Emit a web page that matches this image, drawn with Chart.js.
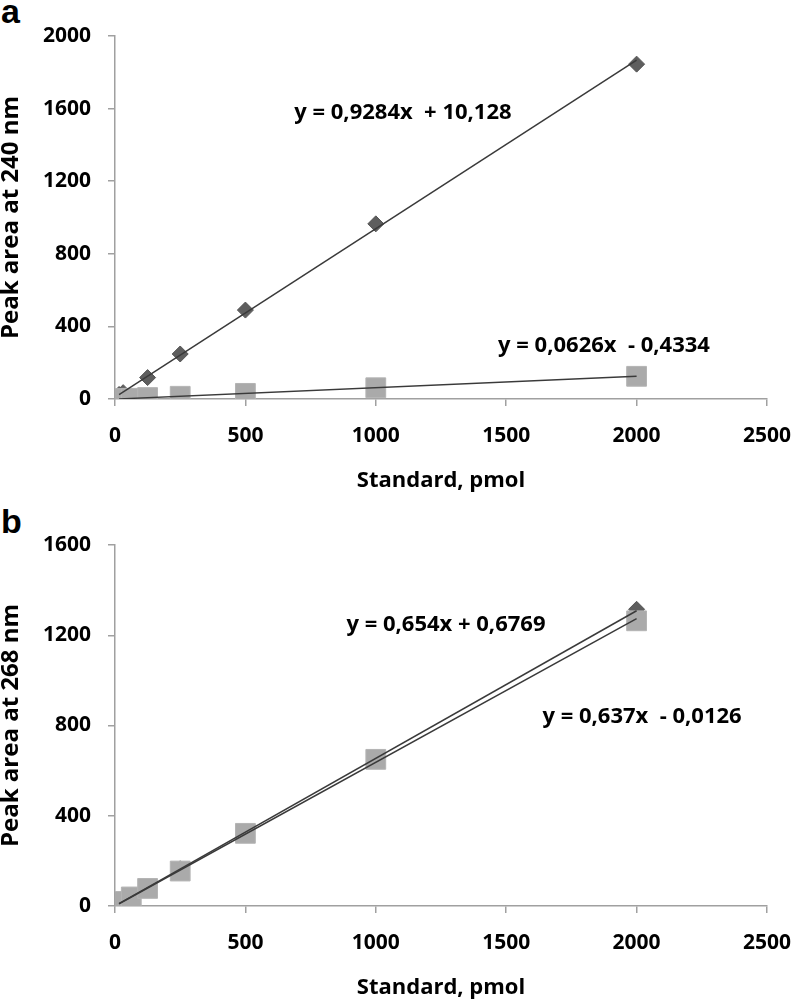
<!DOCTYPE html>
<html>
<head>
<meta charset="utf-8">
<script src="https://cdn.jsdelivr.net/npm/chart.js@4.4.1/dist/chart.umd.min.js"></script>
<style>
  html, body { margin: 0; padding: 0; background: #fff; overflow: hidden; }
  body { width: 793px; height: 1003px; position: relative; }
  canvas { position: absolute; left: 0; }
  .panel { position: absolute; left: 1px; font-family: "Liberation Sans", Arial, sans-serif; font-weight: bold; font-size: 34px; line-height: 34px; color: #000; }
</style>
</head>
<body>
<div class="panel" style="top:-6px">a</div>
<div class="panel" style="top:504px">b</div>
<canvas id="cA" width="793" height="500" style="top:0"></canvas>
<canvas id="cB" width="793" height="503" style="top:500px"></canvas>
<script>
// ---- Data ----
const xTicks = [0, 500, 1000, 1500, 2000, 2500];

// Panel a (240 nm)
const aDiamondX = [15.6, 31.25, 125, 250, 500, 1000, 2000];
const aDiamondY = [25, 35, 118, 248, 490, 965, 1845];
const aSquareX  = [15.6, 31.25, 62.5, 125, 250, 500, 1000, 2000];
const aSquareY  = [1, 2, 4, 8, 15, 31, 62, 125];
const aSlopes     = [0.9284, 0.0626];
const aIntercepts = [10.128, -0.4334];
const aEquations  = ["y = 0,9284x  + 10,128", "y = 0,0626x  - 0,4334"];
const aYTicks = [0, 400, 800, 1200, 1600, 2000];

// Panel b (268 nm)
const bDiamondX = [15.6, 31.25, 62.5, 125, 250, 500, 1000, 2000];
const bDiamondY = [11, 21, 41, 82, 165, 328, 655, 1315];
const bSquareX  = [15.6, 31.25, 62.5, 125, 250, 500, 1000, 2000];
const bSquareY  = [10, 20, 40, 78, 155, 322, 650, 1264];
const bSlopes     = [0.654, 0.637];
const bIntercepts = [0.6769, -0.0126];
const bEquations  = ["y = 0,654x + 0,6769", "y = 0,637x  - 0,0126"];
const bYTicks = [0, 400, 800, 1200, 1600];

// ---- helpers ----
const FONT = '"Open Sans", "DejaVu Sans", sans-serif';
const AXIS_COL = '#a0a0a0';

function pts(xs, ys) { return xs.map((x, i) => ({x: x, y: ys[i]})); }
function trend(xs, slope, intercept) {
  const x0 = Math.min(...xs), x1 = Math.max(...xs);
  return [{x: x0, y: slope * x0 + intercept}, {x: x1, y: slope * x1 + intercept}];
}

const eqPlugin = {
  id: 'eqLabels',
  afterDatasetsDraw(chart, args, opts) {
    const ctx = chart.ctx, xs = chart.scales.x, ys = chart.scales.y;
    ctx.save();
    ctx.font = 'bold 22px ' + FONT;
    ctx.fillStyle = '#000';
    ctx.textAlign = 'center';
    ctx.textBaseline = 'middle';
    (opts.items || []).forEach(it => {
      ctx.fillText(it.text, xs.getPixelForValue(it.x), ys.getPixelForValue(it.y));
    });
    ctx.restore();
  }
};

function makeChart(id, cfg) {
  const datasets = [
    {type: 'line', data: trend(cfg.dX, cfg.slopes[0], cfg.intercepts[0]), borderColor: '#3a3a3a', borderWidth: 1.5, pointRadius: 0, showLine: true, fill: false, order: 0},
    {type: 'line', data: trend(cfg.sX, cfg.slopes[1], cfg.intercepts[1]), borderColor: '#3a3a3a', borderWidth: 1.5, pointRadius: 0, showLine: true, fill: false, order: 0},
    {type: 'scatter', data: pts(cfg.sX, cfg.sY), pointStyle: 'rect', pointRadius: 14, backgroundColor: '#aaaaaa', borderColor: '#b4b4b4', borderWidth: 1, order: 1},
    {type: 'scatter', data: pts(cfg.dX, cfg.dY), pointStyle: 'rectRot', pointRadius: 8, backgroundColor: '#5e5e5e', borderColor: '#555555', borderWidth: 1, order: 2}
  ];
  const tickFont = {family: FONT, size: 21, weight: 'bold'};
  const xTitleFont = {family: FONT, size: 22, weight: 'bold'};
  const yTitleFont = {family: FONT, size: 24, weight: 'bold'};
  return new Chart(document.getElementById(id), {
    type: 'scatter',
    data: {datasets},
    plugins: [eqPlugin],
    options: {
      responsive: false,
      animation: false,
      devicePixelRatio: 1,
      layout: {padding: {top: cfg.padTop, right: 26, left: 0, bottom: 0}},
      plugins: {
        legend: {display: false},
        tooltip: {enabled: false},
        eqLabels: {items: cfg.eqItems}
      },
      scales: {
        x: {
          type: 'linear', min: 0, max: 2500,
          afterBuildTicks: s => { s.ticks = xTicks.map(v => ({value: v})); },
          afterFit: s => { s.height = cfg.xHeight; s.paddingLeft = 0; s.paddingRight = 0; },
          ticks: {color: '#000', font: tickFont, padding: 17, maxRotation: 0, callback: v => String(v)},
          grid: {display: true, drawOnChartArea: false, tickLength: 7, color: AXIS_COL, lineWidth: 1.5},
          border: {display: true, color: AXIS_COL, width: 1.5},
          title: {display: true, text: 'Standard, pmol', color: '#000', font: xTitleFont, padding: {top: 0, bottom: cfg.xTitlePad}}
        },
        y: {
          type: 'linear', min: 0, max: cfg.yMax,
          afterBuildTicks: s => { s.ticks = cfg.yTicks.map(v => ({value: v})); },
          afterFit: s => { s.width = 115; s.paddingTop = 0; s.paddingBottom = 0; },
          ticks: {color: '#000', font: tickFont, padding: 17, callback: v => String(v)},
          grid: {display: true, drawOnChartArea: false, tickLength: 7, color: AXIS_COL, lineWidth: 1.5},
          border: {display: true, color: AXIS_COL, width: 1.5},
          title: {display: true, text: cfg.yTitle, color: '#000', font: yTitleFont, padding: {top: -3, bottom: 0}}
        }
      }
    }
  });
}

makeChart('cA', {
  dX: aDiamondX, dY: aDiamondY, sX: aSquareX, sY: aSquareY,
  slopes: aSlopes, intercepts: aIntercepts,
  yMax: 2000, yTicks: aYTicks, yTitle: 'Peak area at 240 nm',
  padTop: 36, xHeight: 101, xTitlePad: 6,
  eqItems: [{text: aEquations[0], x: 1104, y: 1578}, {text: aEquations[1], x: 1875, y: 292}]
});
makeChart('cB', {
  dX: bDiamondX, dY: bDiamondY, sX: bSquareX, sY: bSquareY,
  slopes: bSlopes, intercepts: bIntercepts,
  yMax: 1600, yTicks: bYTicks, yTitle: 'Peak area at 268 nm',
  padTop: 45, xHeight: 97, xTitlePad: 2,
  eqItems: [{text: bEquations[0], x: 1269, y: 1246}, {text: bEquations[1], x: 2021, y: 838}]
});
</script>
</body>
</html>
